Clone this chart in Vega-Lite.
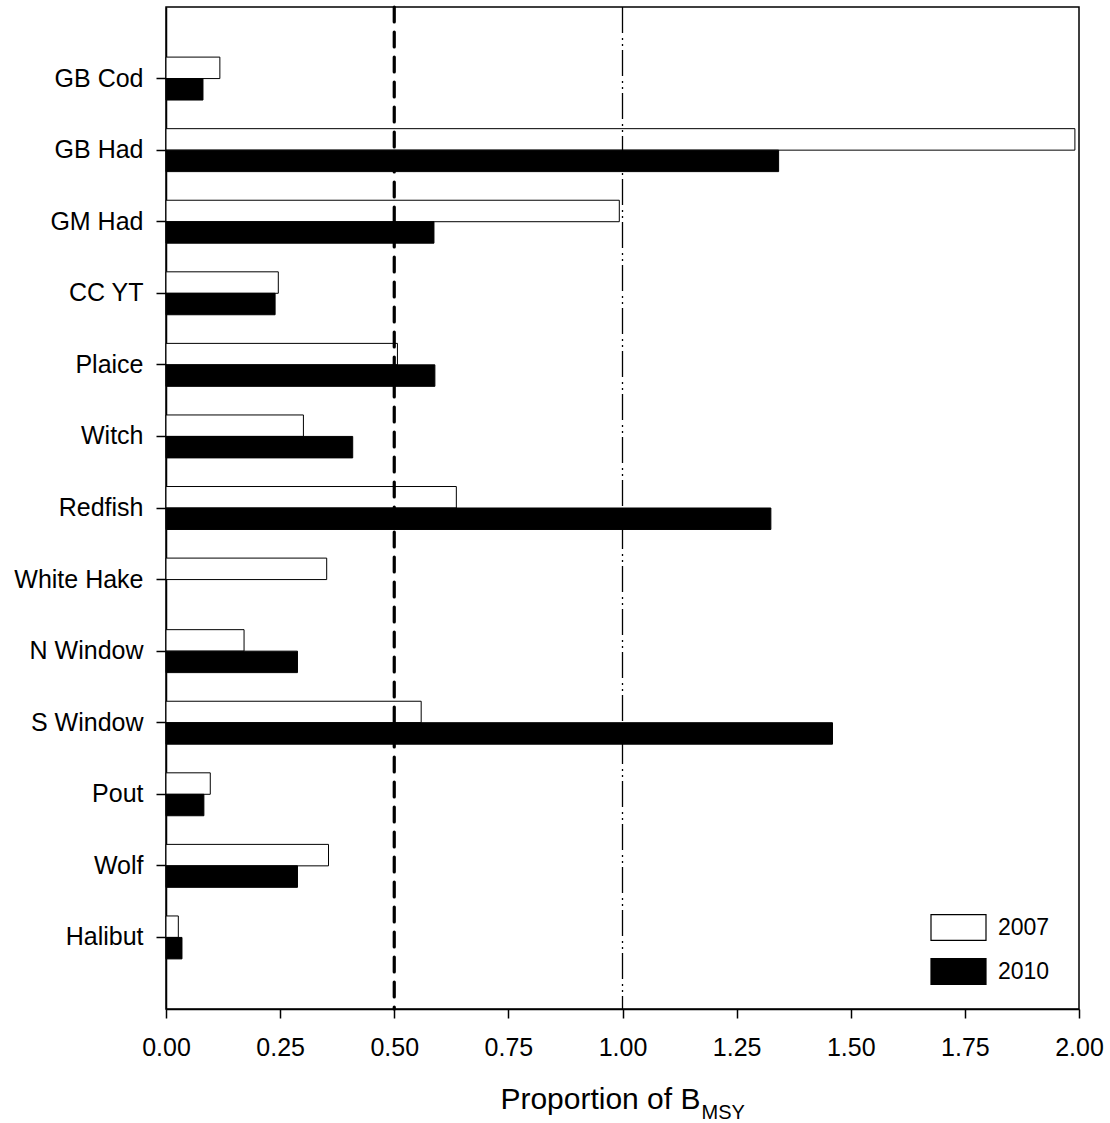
{
  "$schema": "https://vega.github.io/schema/vega-lite/v6.json",
  "width": 913,
  "height": 1002,
  "autosize": {"type": "none"},
  "padding": {"left": 166, "top": 7, "right": 31, "bottom": 114},
  "background": "white",
  "config": {
    "font": "Liberation Sans",
    "view": {"stroke": "black", "strokeWidth": 1.5},
    "axis": {"grid": false, "domainColor": "black", "tickColor": "black", "labelColor": "black", "titleColor": "black", "domainWidth": 1.5, "tickWidth": 1.5, "titleFontWeight": "normal", "labelFlush": false, "labelOverlap": false}
  },
  "layer": [
    {
      "layer": [
        {
          "data": {"values": [
            {"stock": "GB Cod", "year": "2007", "value": 0.118},
            {"stock": "GB Cod", "year": "2010", "value": 0.081},
            {"stock": "GB Had", "year": "2007", "value": 1.991},
            {"stock": "GB Had", "year": "2010", "value": 1.342},
            {"stock": "GM Had", "year": "2007", "value": 0.993},
            {"stock": "GM Had", "year": "2010", "value": 0.587},
            {"stock": "CC YT", "year": "2007", "value": 0.246},
            {"stock": "CC YT", "year": "2010", "value": 0.239},
            {"stock": "Plaice", "year": "2007", "value": 0.507},
            {"stock": "Plaice", "year": "2010", "value": 0.589},
            {"stock": "Witch", "year": "2007", "value": 0.301},
            {"stock": "Witch", "year": "2010", "value": 0.409},
            {"stock": "Redfish", "year": "2007", "value": 0.636},
            {"stock": "Redfish", "year": "2010", "value": 1.325},
            {"stock": "White Hake", "year": "2007", "value": 0.352},
            {"stock": "N Window", "year": "2007", "value": 0.171},
            {"stock": "N Window", "year": "2010", "value": 0.288},
            {"stock": "S Window", "year": "2007", "value": 0.559},
            {"stock": "S Window", "year": "2010", "value": 1.46},
            {"stock": "Pout", "year": "2007", "value": 0.097},
            {"stock": "Pout", "year": "2010", "value": 0.083},
            {"stock": "Wolf", "year": "2007", "value": 0.356},
            {"stock": "Wolf", "year": "2010", "value": 0.288},
            {"stock": "Halibut", "year": "2007", "value": 0.027},
            {"stock": "Halibut", "year": "2010", "value": 0.035}
          ]},
          "mark": {"type": "bar", "stroke": "black", "strokeWidth": 1},
          "encoding": {
            "y": {
              "field": "stock", "type": "nominal",
              "sort": ["GB Cod", "GB Had", "GM Had", "CC YT", "Plaice", "Witch", "Redfish", "White Hake", "N Window", "S Window", "Pout", "Wolf", "Halibut"],
              "scale": {"paddingInner": 0.4, "paddingOuter": 0.7},
              "axis": {"title": null, "labelFontSize": 25, "tickSize": 10, "labelPadding": 13}
            },
            "yOffset": {"field": "year", "type": "nominal", "sort": ["2007", "2010"], "scale": {"paddingInner": 0, "paddingOuter": 0}},
            "x": {
              "field": "value", "type": "quantitative",
              "scale": {"domain": [0, 2], "nice": false, "zero": true},
              "axis": {
                "values": [0, 0.25, 0.5, 0.75, 1, 1.25, 1.5, 1.75, 2],
                "format": ".2f", "labelFontSize": 25, "tickSize": 9, "labelPadding": 17,
                "title": "Proportion of B", "titleFontSize": 30, "titleAlign": "right", "titleX": 534, "titleY": 99, "titleBaseline": "alphabetic"
              }
            },
            "fill": {
              "field": "year", "type": "nominal",
              "scale": {"domain": ["2007", "2010"], "range": ["white", "black"]},
              "legend": {
                "title": null, "orient": "none", "legendX": 764, "legendY": 892,
                "symbolType": "M-1,-0.47H1V0.47H-1Z", "symbolSize": 3025,
                "symbolStrokeColor": "black", "symbolStrokeWidth": 1.2, "symbolOpacity": 1,
                "labelFontSize": 23, "labelOffset": 11, "labelColor": "black", "rowPadding": -11, "padding": 0
              }
            }
          }
        },
        {
          "data": {"values": [{"ref": 0.5}]},
          "mark": {"type": "rule", "color": "black", "strokeWidth": 3.2, "strokeDash": [15, 10], "strokeCap": "round"},
          "encoding": {"x": {"field": "ref", "type": "quantitative"}}
        },
        {
          "data": {"values": [{"ref": 1.0}]},
          "mark": {"type": "rule", "color": "black", "strokeWidth": 1.3, "strokeDash": [26, 5, 2, 4, 2, 4]},
          "encoding": {"x": {"field": "ref", "type": "quantitative"}}
        }
      ]
    },
    {
      "data": {"values": [{"v": 0}]},
      "mark": {"type": "rule", "opacity": 0},
      "encoding": {
        "x": {
          "field": "v", "type": "quantitative",
          "scale": {"domain": [0, 2], "nice": false},
          "axis": {
            "orient": "bottom", "labels": false, "ticks": false, "domain": false,
            "title": "MSY", "titleFontSize": 20, "titleAlign": "left", "titleX": 535, "titleY": 109, "titleBaseline": "alphabetic"
          }
        }
      }
    }
  ],
  "resolve": {"scale": {"x": "independent"}, "axis": {"x": "independent"}}
}
